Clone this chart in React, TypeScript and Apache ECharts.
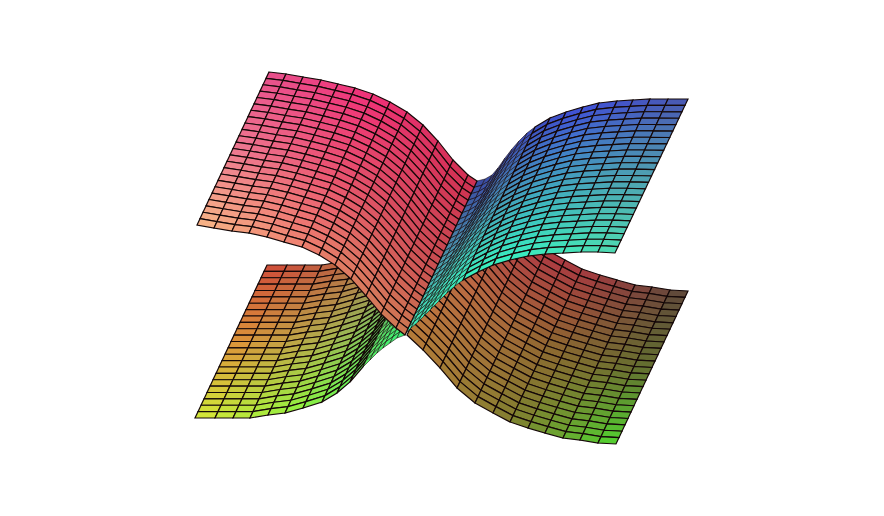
import React, { useEffect, useRef } from "react";
import * as echarts from "echarts";

// Edge polylines of the four lobes (x and y in picture units).
// NOTE: only these edges and the colour stops below were read. The interior mesh rows are
// linearly interpolated between each top and bottom edge, and the cell fills are interpolated
// between the colour stops, so interior cells are approximations and not individual readings.
const redTopX = [269, 286, 303, 321, 338, 355, 373, 390, 407, 423, 438, 453, 468, 477];
const redTopY = [72, 74, 77, 80, 84, 88, 94, 102, 112, 125, 141, 160, 175, 181];
const redBottomX = [197, 214, 232, 249, 267, 284, 302, 319, 335, 351, 366, 381, 396, 405];
const redBottomY = [225, 228, 231, 233, 237, 242, 247, 255, 265, 279, 296, 314, 328, 335];

const blueTopX = [477, 485, 492, 498, 505, 512, 519, 527, 535, 550, 566, 583, 599, 617, 633, 650, 668, 688];
const blueTopY = [181, 179, 175, 168, 158, 149, 141, 133, 127, 118, 112, 107, 103, 101, 100, 99, 99, 99];
const blueBottomX = [405, 411, 418, 424, 431, 439, 447, 455, 463, 478, 493, 510, 528, 545, 563, 581, 598, 615];
const blueBottomY = [334, 328, 322, 316, 309, 301, 293, 286, 280, 272, 265, 260, 256, 254, 253, 252, 252, 253];

// The hidden part of the green top edge is inferred from its bottom edge, since red covers it.
const greenTopX = [267, 287, 305, 322, 340, 357, 375, 394, 409, 422, 435, 442, 449, 455, 462, 469, 477];
const greenTopY = [265, 265, 265, 265, 262, 260, 255, 249, 240, 229, 214, 207, 200, 195, 190, 186, 182];
const greenBottomX = [195, 215, 233, 250, 268, 285, 303, 322, 337, 350, 363, 370, 377, 383, 390, 397, 405];
const greenBottomY = [418, 418, 418, 418, 415, 413, 408, 402, 393, 382, 367, 360, 353, 348, 343, 338, 335];

const brownTopX = [479, 495, 512, 529, 547, 565, 582, 600, 617, 635, 652, 670, 688];
const brownTopY = [182, 197, 215, 235, 250, 260, 269, 275, 280, 285, 287, 290, 291];
const brownBottomX = [407, 423, 440, 457, 475, 493, 510, 528, 545, 563, 580, 598, 616];
const brownBottomY = [335, 350, 368, 388, 403, 413, 422, 428, 433, 438, 440, 443, 444];

// Colours estimated at three stops across (first index: top, middle, bottom of the sheet).
const redColors = [
  ["#e8508c", "#f03078", "#d03050"],
  ["#ee7a92", "#ea5070", "#c84a50"],
  ["#f8b888", "#ee8070", "#cc7850"],
];
const blueColors = [
  ["#3a4aa0", "#4050d8", "#4a58b0"],
  ["#4a90a8", "#40a0c0", "#50a0b0"],
  ["#40f0b8", "#38f0c0", "#50d8b0"],
];
const greenColors = [
  ["#d04a38", "#b07048", "#508060"],
  ["#e09038", "#a8b050", "#40c070"],
  ["#d8e838", "#90f040", "#38f078"],
];
const brownColors = [
  ["#b83848", "#a83a40", "#5a4a3a"],
  ["#c86a48", "#906830", "#607030"],
  ["#b87a38", "#808030", "#50d830"],
];

const ROWS = 24;
const LINE = "#150808";

type Patch = {
  name: string;
  topX: number[];
  topY: number[];
  bottomX: number[];
  bottomY: number[];
  colors: string[][];
};

const patches: Patch[] = [
  { name: "green", topX: greenTopX, topY: greenTopY, bottomX: greenBottomX, bottomY: greenBottomY, colors: greenColors },
  { name: "brown", topX: brownTopX, topY: brownTopY, bottomX: brownBottomX, bottomY: brownBottomY, colors: brownColors },
  { name: "blue", topX: blueTopX, topY: blueTopY, bottomX: blueBottomX, bottomY: blueBottomY, colors: blueColors },
  { name: "red", topX: redTopX, topY: redTopY, bottomX: redBottomX, bottomY: redBottomY, colors: redColors },
];

const rgb = (h: string) => [1, 3, 5].map((i) => parseInt(h.slice(i, i + 2), 16));
const mix = (a: number[], b: number[], t: number) => a.map((v, i) => v + (b[i] - v) * t);

function cellColor(colors: string[][], u: number, v: number) {
  const vp = v * 2;
  const up = u * 2;
  const vi = Math.min(1, Math.floor(vp));
  const ui = Math.min(1, Math.floor(up));
  const a = mix(rgb(colors[vi][ui]), rgb(colors[vi][ui + 1]), up - ui);
  const b = mix(rgb(colors[vi + 1][ui]), rgb(colors[vi + 1][ui + 1]), up - ui);
  const c = mix(a, b, vp - vi);
  return `rgb(${Math.round(c[0])},${Math.round(c[1])},${Math.round(c[2])})`;
}

function makeSeries(p: Patch) {
  const cols = p.topX.length - 1;
  const data: number[][] = [];
  for (let c = 0; c < cols; c++) for (let r = 0; r < ROWS; r++) data.push([c, r]);
  const at = (c: number, r: number) => {
    const f = r / ROWS;
    return [p.topX[c] + (p.bottomX[c] - p.topX[c]) * f, p.topY[c] + (p.bottomY[c] - p.topY[c]) * f];
  };
  const span = p.topX[cols] - p.topX[0];
  return {
    type: "custom",
    name: p.name,
    coordinateSystem: "cartesian2d",
    silent: true,
    clip: false,
    data,
    renderItem: (_: any, api: any) => {
      const c = api.value(0);
      const r = api.value(1);
      const points = [at(c, r), at(c + 1, r), at(c + 1, r + 1), at(c, r + 1)].map((q) => api.coord(q));
      const u = ((p.topX[c] + p.topX[c + 1]) / 2 - p.topX[0]) / span;
      const narrow = p.topX[c + 1] - p.topX[c] < 9;
      return {
        type: "polygon",
        shape: { points },
        style: {
          fill: cellColor(p.colors, u, (r + 0.5) / ROWS),
          stroke: LINE,
          lineWidth: narrow ? 0.55 : 1.2,
        },
      };
    },
  };
}

export default function App() {
  const ref = useRef<HTMLDivElement>(null);
  useEffect(() => {
    const chart = echarts.init(ref.current!, undefined, { renderer: "svg" });
    chart.setOption({
      animation: false,
      backgroundColor: "#ffffff",
      grid: { left: 0, right: 0, top: 0, bottom: 0 },
      xAxis: { type: "value", min: 0, max: 884, show: false },
      yAxis: { type: "value", min: 0, max: 516, inverse: true, show: false },
      series: patches.map(makeSeries),
    });
    return () => chart.dispose();
  }, []);
  return <div ref={ref} style={{ position: "absolute", left: 0, top: 0, width: 884, height: 516 }} />;
}
